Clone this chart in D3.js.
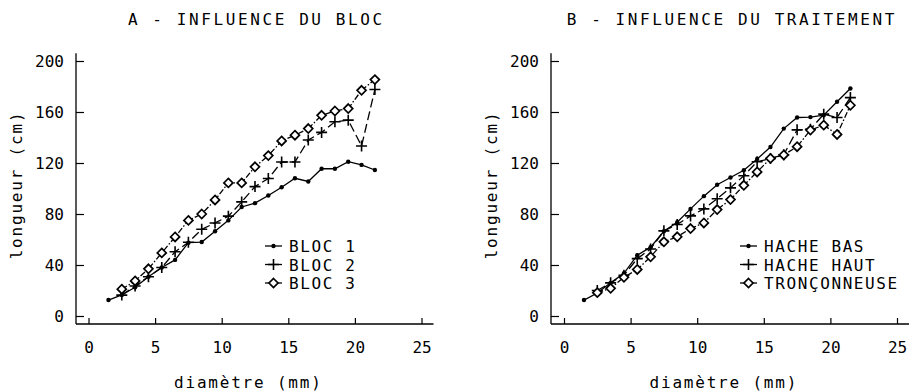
<!DOCTYPE html>
<html>
<head>
<meta charset="utf-8">
<script src="https://cdn.jsdelivr.net/npm/d3@7"></script>
<style>
body{margin:0;background:#fff;}
text{font-family:"DejaVu Sans Mono",monospace;fill:#000;}
</style>
</head>
<body>
<script>
'use strict';
// diametre (mm), centres de classe
let diamA = [1.5,2.5,3.5,4.5,5.5,6.5,7.5,8.5,9.5,10.5,11.5,12.5,13.5,14.5,15.5,16.5,17.5,18.5,19.5,20.5,21.5];
let diamB = [2.5,3.5,4.5,5.5,6.5,7.5,8.5,9.5,10.5,11.5,12.5,13.5,14.5,15.5,16.5,17.5,18.5,19.5,20.5,21.5];

// A - longueur (cm) par bloc
let bloc1 = [12.5,16.5,22.5,30.8,38,44,57.5,58,66.5,75,85.5,88.5,94.5,101,108,105.5,115.5,115.5,121,118.5,114.5];
let bloc2 = [16.4,23.5,30.8,38,50.4,57.8,68,73,78.3,89.5,101.5,107.8,120.8,120.8,138,144,152.3,153.6,133.3,177.6];
let bloc3 = [21,27.5,37,49.5,62,75,80,91,104.4,104.4,117,125.8,137.3,141.8,147,157.4,160.8,162.7,177,185.4];

// B - longueur (cm) par traitement
let hacheBas = [12.5,18,26,33.5,47.7,54,66.5,73.5,84,94,103,108.6,114.3,123.2,132.5,147,155.7,156,157.5,168,178.4];
let hacheHaut = [20,26,32,45,52.6,66.8,71.8,78.5,84,92,100.5,110,121,123.5,126.5,146,146.5,158.3,155.7,171.3];
let tronc = [18.3,21.7,30.3,36.5,46.4,58.2,62.1,68.6,73,83.5,91.3,102.5,113,123.6,126.3,132.8,145.8,149.7,142.4,165.3];

let xTicks = [0,5,10,15,20,25];
let yTicks = [0,40,80,120,160,200];
let titles = ["A - INFLUENCE DU BLOC","B - INFLUENCE DU TRAITEMENT"];
let legendA = ["BLOC 1","BLOC 2","BLOC 3"];
let legendB = ["HACHE BAS","HACHE HAUT","TRONÇONNEUSE"];

let styles = [
	{dash:null, mark:"dot"},
	{dash:"9,4", mark:"plus"},
	{dash:"6,2,1.5,2", mark:"diamond"}
];

let panels = [
	{axisX:76, x0:88.5, x25:421.5, title:titles[0], names:legendA, legX:265,
		series:[[diamA,bloc1],[diamB,bloc2],[diamB,bloc3]]},
	{axisX:551, x0:564, x25:897, title:titles[1], names:legendB, legX:740,
		series:[[diamA,hacheBas],[diamB,hacheHaut],[diamB,tronc]]}
];

let svg = d3.select("body").append("svg")
	.attr("width", 922)
	.attr("height", 392);

let y = d3.scaleLinear().domain([0,200]).range([316,61]);
let xAxisY = 324;

function drawMark(sel, kind){
	if(kind=="dot"){
		sel.append("circle").attr("r",2.2).attr("fill","#000");
	} else if(kind=="plus"){
		sel.append("path").attr("d","M-5.5,0H5.5M0,-5.5V5.5")
			.attr("stroke","#000").attr("stroke-width",1.6).attr("fill","none");
	} else {
		sel.append("path").attr("d","M0,-4.5L4.5,0L0,4.5L-4.5,0Z")
			.attr("stroke","#000").attr("stroke-width",1.7).attr("fill","#fff");
	}
}

panels.forEach(function(p){
	let x = d3.scaleLinear().domain([0,25]).range([p.x0,p.x25]);
	let g = svg.append("g");

	// axes lines
	g.append("line")
		.attr("x1",p.axisX).attr("x2",x(25.9))
		.attr("y1",xAxisY).attr("y2",xAxisY)
		.attr("stroke","#000").attr("stroke-width",1.3);
	g.append("line")
		.attr("x1",p.axisX).attr("x2",p.axisX)
		.attr("y1",xAxisY).attr("y2",y(206))
		.attr("stroke","#000").attr("stroke-width",1.3);

	// x axis
	let gx = g.append("g").attr("transform","translate(0,"+xAxisY+")");
	gx.call(d3.axisBottom(x).tickValues(d3.range(0,26,1)).tickSize(-3).tickSizeOuter(0).tickFormat(""));
	gx.call(d3.axisBottom(x).tickValues(xTicks).tickSize(-6).tickSizeOuter(0).tickPadding(18));
	gx.selectAll(".domain").remove();
	gx.selectAll("text").attr("font-size",16).attr("font-family","DejaVu Sans Mono");

	// y axis
	let gy = g.append("g").attr("transform","translate("+p.axisX+",0)");
	gy.call(d3.axisLeft(y).tickValues(d3.range(0,201,10)).tickSize(-4).tickSizeOuter(0).tickFormat(""));
	gy.call(d3.axisLeft(y).tickValues(yTicks).tickSize(-8).tickSizeOuter(0).tickPadding(12));
	gy.selectAll(".domain").remove();
	gy.selectAll("text").attr("font-size",16).attr("font-family","DejaVu Sans Mono");
	g.selectAll(".tick line").attr("stroke-width",1.2);

	// titles
	g.append("text")
		.attr("x",x(12.6)).attr("y",25)
		.attr("text-anchor","middle")
		.attr("font-size",16).attr("letter-spacing",2.6)
		.text(p.title);
	g.append("text")
		.attr("x",x(12)).attr("y",388)
		.attr("text-anchor","middle")
		.attr("font-size",16).attr("letter-spacing",1.8)
		.text("diamètre (mm)");
	g.append("text")
		.attr("transform","translate("+(p.axisX-54)+",185) rotate(-90)")
		.attr("text-anchor","middle")
		.attr("font-size",16).attr("letter-spacing",1.8)
		.text("longueur (cm)");

	// series
	p.series.forEach(function(s,i){
		let pts = s[0].map(function(d,j){return [d,s[1][j]];});
		g.append("path")
			.datum(pts)
			.attr("fill","none")
			.attr("stroke","#000")
			.attr("stroke-width",1.3)
			.attr("stroke-dasharray",styles[i].dash)
			.attr("d",d3.line()
				.x(function(d){return x(d[0]);})
				.y(function(d){return y(d[1]);}));
		let m = g.selectAll("g.m"+i)
			.data(pts)
			.enter().append("g")
				.attr("class","m"+i)
				.attr("transform",function(d){return "translate("+x(d[0])+","+y(d[1])+")";});
		drawMark(m, styles[i].mark);
	});

	// legend
	p.names.forEach(function(n,i){
		let ly = 246 + i*18.5;
		g.append("line")
			.attr("x1",p.legX).attr("x2",p.legX+17)
			.attr("y1",ly).attr("y2",ly)
			.attr("stroke","#000").attr("stroke-width",1.3);
		let m = g.append("g").attr("transform","translate("+(p.legX+8.5)+","+ly+")");
		drawMark(m, styles[i].mark);
		g.append("text")
			.attr("x",p.legX+24).attr("y",ly+6)
			.attr("font-size",16).attr("letter-spacing",1.6)
			.text(n);
	});
});
</script>
</body>
</html>
